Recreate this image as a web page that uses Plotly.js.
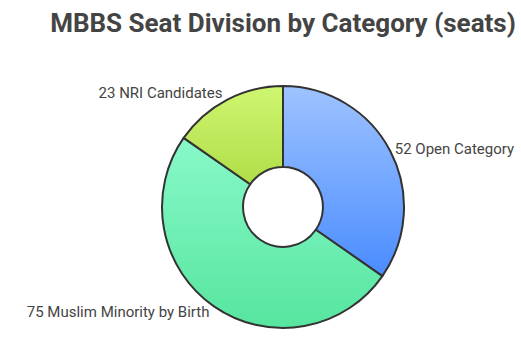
<!DOCTYPE html>
<html>
<head>
<meta charset="utf-8">
<script src="https://cdn.plot.ly/plotly-3.0.1.min.js"></script>
<style>html,body{margin:0;padding:0;background:#fff;}#chart{width:521px;height:349px;}</style>
</head>
<body>
<div id="chart"></div>
<script>
const categories = ["Open Category", "Muslim Minority by Birth", "NRI Candidates"];
const seats = [52, 75, 23];
const colors = ["#72a8ff", "#70eeb4", "#c0ea5c"];
const gradTop = ["#9ec3ff", "#88f9c9", "#cff671"];
const gradBottom = ["#4a8cff", "#57e59f", "#b0dd48"];

const trace = {
  type: "pie",
  labels: categories,
  values: seats,
  hole: 0.33,
  sort: false,
  direction: "clockwise",
  rotation: 0,
  textposition: "outside",
  texttemplate: "%{value} %{label}",
  textfont: {family: "Roboto, sans-serif", size: 15, color: "#444"},
  marker: {colors: colors, line: {color: "#333333", width: 2}},
  showlegend: false,
  hoverinfo: "label+value"
};

const layout = {
  width: 521, height: 349,
  margin: {l: 45, r: 0, t: 86, b: 21},
  paper_bgcolor: "#ffffff",
  title: {
    text: "<b>MBBS Seat Division by Category (seats)</b>",
    font: {family: "Roboto, sans-serif", size: 26, color: "#444444"},
    x: 0.5, xanchor: "center", xref: "paper",
    y: 0.935, yanchor: "middle", yref: "container"
  }
};

Plotly.newPlot("chart", [trace], layout, {staticPlot: true}).then(function(gd){
  const svg = gd.querySelector("svg.main-svg");
  const ns = "http://www.w3.org/2000/svg";
  let defs = svg.querySelector("defs");
  if (!defs) { defs = document.createElementNS(ns, "defs"); svg.insertBefore(defs, svg.firstChild); }
  const slices = gd.querySelectorAll("g.slice path.surface");
  slices.forEach(function(p, i){
    const g = document.createElementNS(ns, "linearGradient");
    g.setAttribute("id", "sliceGrad" + i);
    g.setAttribute("x1", "0"); g.setAttribute("y1", "0");
    g.setAttribute("x2", "0"); g.setAttribute("y2", "1");
    const s1 = document.createElementNS(ns, "stop");
    s1.setAttribute("offset", "0"); s1.setAttribute("stop-color", gradTop[i]);
    const s2 = document.createElementNS(ns, "stop");
    s2.setAttribute("offset", "1"); s2.setAttribute("stop-color", gradBottom[i]);
    g.appendChild(s1); g.appendChild(s2);
    defs.appendChild(g);
    p.style.fill = "url(#sliceGrad" + i + ")";
  });
});
</script>
</body>
</html>
